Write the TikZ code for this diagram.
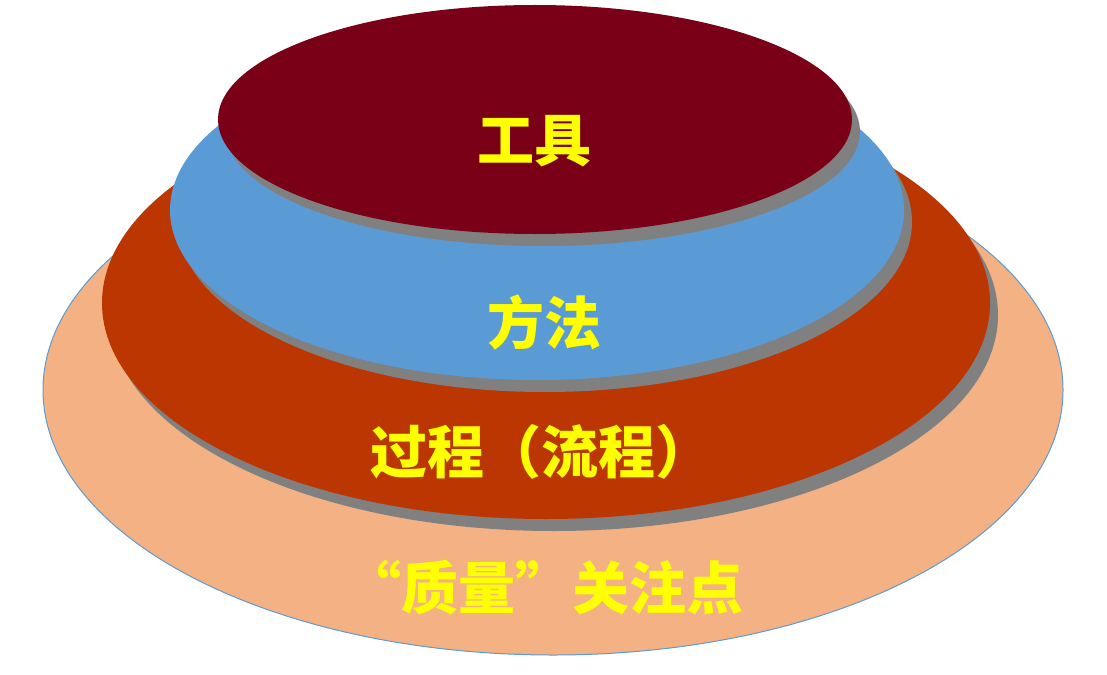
\documentclass[tikz,border=0pt]{standalone}
\usepackage{fontspec}
\newfontfamily\cjk{Noto Sans CJK SC}
\usetikzlibrary{shapes.geometric,shadows}
\definecolor{peach}{HTML}{F4B183}
\definecolor{rust}{HTML}{BB3600}
\definecolor{skyblue}{HTML}{5B9BD5}
\definecolor{wine}{HTML}{7A0018}
\definecolor{shade}{HTML}{808080}
\definecolor{yell}{HTML}{FFFF00}
\tikzset{
  layer/.style={ellipse, inner sep=0pt, outer sep=0pt, draw=none},
  shadowed/.style={drop shadow={shadow xshift=8pt, shadow yshift=-12pt, fill=shade, opacity=1}},
  lbl/.style={font=\cjk\bfseries\fontsize{57}{60}\selectfont, text=yell, inner sep=0pt, anchor=center}
}
\begin{document}
\begin{tikzpicture}[x=1pt,y=-1pt]
\useasboundingbox (0,0) rectangle (1107,674);
\node[layer, fill=peach, draw=skyblue, line width=1pt, minimum width=1020pt, minimum height=530pt] (focus) at (553,390) {};
\node[layer, shadowed, fill=rust, minimum width=888pt, minimum height=432pt] (process) at (546,303) {};
\node[layer, shadowed, fill=skyblue, minimum width=734pt, minimum height=340pt] (method) at (537,210) {};
\node[layer, shadowed, fill=wine, minimum width=634pt, minimum height=229pt] (tools) at (535,119.5) {};
\node[lbl] (tlbl) at (534,141) {工具};
\node[lbl] (mlbl) at (544,322) {方法};
\node[lbl] (plbl) at (541,452) {过程（流程）};
\node[lbl] (flbl) at (544,588) {“质量”关注点};
\end{tikzpicture}
\end{document}
